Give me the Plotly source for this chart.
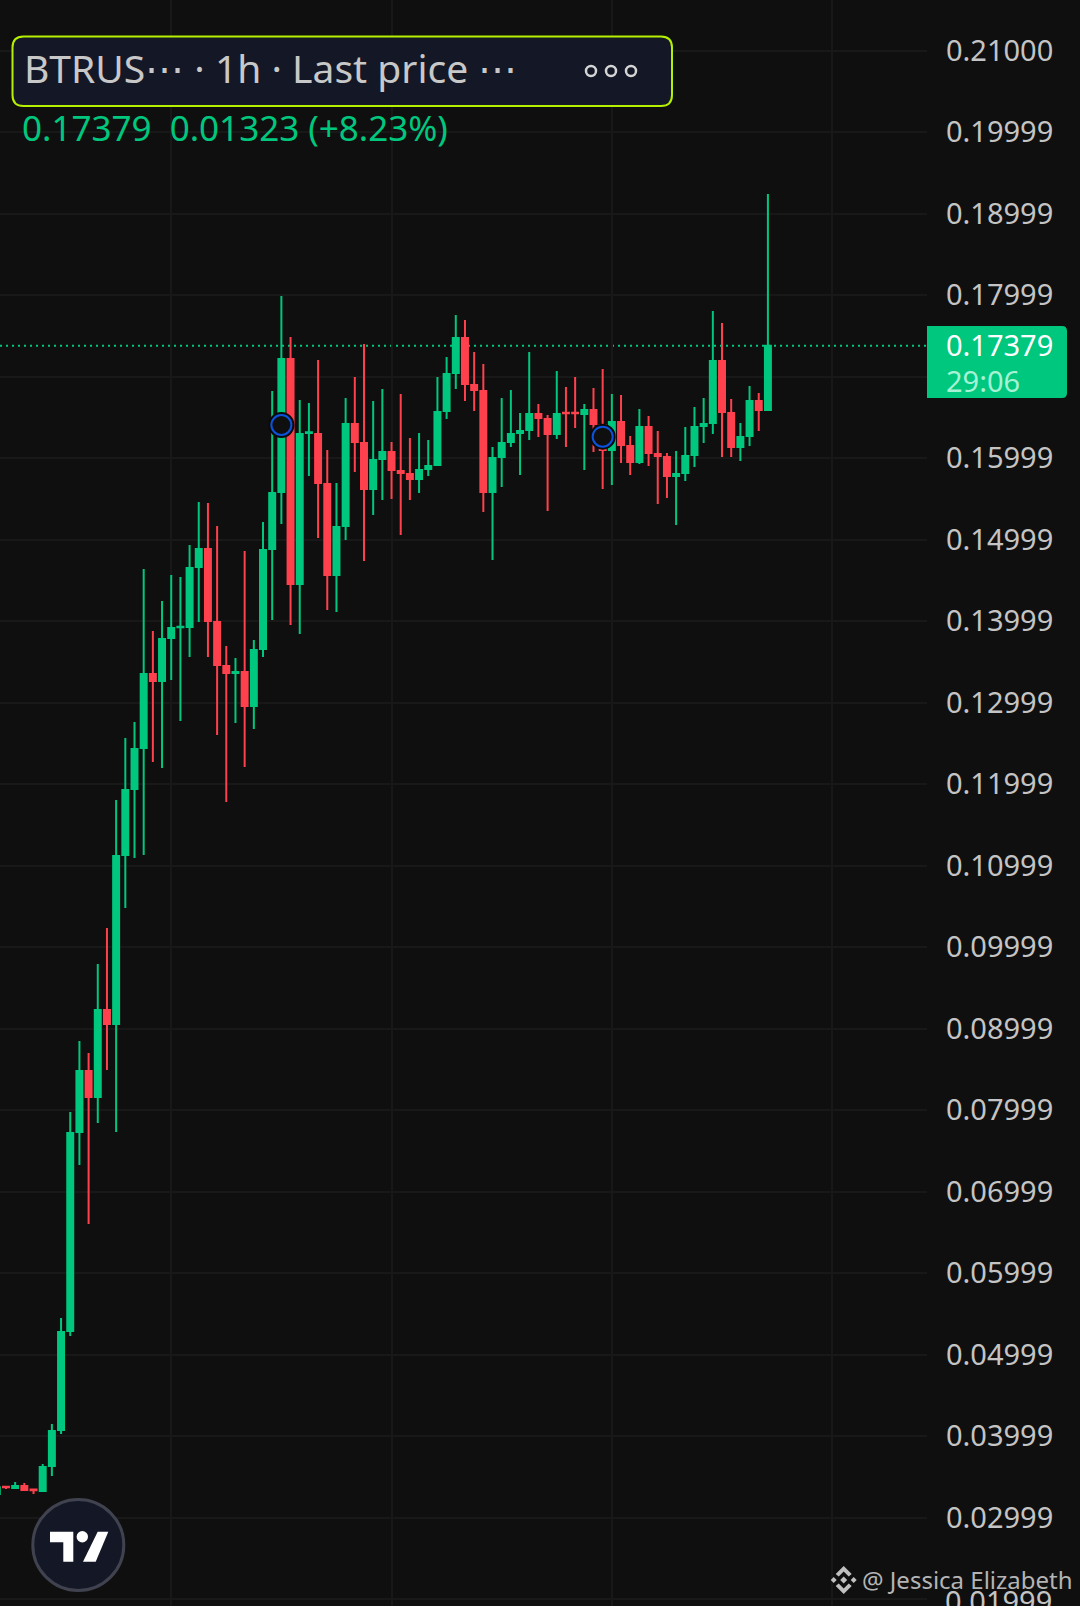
import plotly.graph_objects as go

W = 1080
H = 1606

############ candles ############
opens = [0.03290, 0.03379, 0.03363, 0.03388, 0.03343, 0.03326, 0.03633, 0.04075, 0.05290, 0.07731,
         0.08480, 0.08161, 0.09228, 0.09057, 0.11130, 0.11940, 0.12443, 0.13351, 0.13265, 0.13793,
         0.13924, 0.13928, 0.14663, 0.14884, 0.13989, 0.13449, 0.13363, 0.13376, 0.12958, 0.13658,
         0.14884, 0.15584, 0.17216, 0.14455, 0.16308, 0.16295, 0.15682, 0.14565, 0.15167, 0.16418,
         0.16185, 0.15621, 0.15989, 0.16075, 0.15842, 0.15805, 0.15744, 0.15866, 0.15915, 0.16578,
         0.17044, 0.17474, 0.16897, 0.16823, 0.15584, 0.16013, 0.16198, 0.16308, 0.16345, 0.16541,
         0.16480, 0.16296, 0.16557, 0.16557, 0.16541, 0.16590, 0.16406, 0.16099, 0.16443, 0.16148,
         0.15952, 0.16382, 0.16050, 0.16013, 0.15780, 0.15817, 0.16038, 0.16394, 0.16431, 0.17191,
         0.16553, 0.16136, 0.16271, 0.16701, 0.16590]
closes = [0.03371, 0.03371, 0.03388, 0.03339, 0.03335, 0.03621, 0.04063, 0.05277, 0.07719, 0.08480,
          0.08161, 0.09228, 0.09057, 0.11118, 0.11928, 0.12431, 0.13351, 0.13265, 0.13780, 0.13915,
          0.13932, 0.14651, 0.14884, 0.14001, 0.13461, 0.13363, 0.13376, 0.12958, 0.13646, 0.14872,
          0.15572, 0.17216, 0.14455, 0.16295, 0.16316, 0.15694, 0.14565, 0.15154, 0.16418, 0.16197,
          0.15621, 0.15976, 0.16075, 0.15854, 0.15817, 0.15744, 0.15854, 0.15903, 0.16566, 0.17032,
          0.17474, 0.16909, 0.16836, 0.15584, 0.16001, 0.16185, 0.16296, 0.16333, 0.16541, 0.16492,
          0.16296, 0.16541, 0.16549, 0.16549, 0.16590, 0.16418, 0.16099, 0.16443, 0.16161, 0.15952,
          0.16382, 0.16063, 0.16026, 0.15780, 0.15805, 0.16026, 0.16382, 0.16418, 0.17191, 0.16566,
          0.16136, 0.16259, 0.16701, 0.16590, 0.17379]
highs = [0.03371, 0.03379, 0.03437, 0.03425, 0.03343, 0.03658, 0.04148, 0.05449, 0.07977, 0.08848,
         0.08701, 0.09793, 0.10234, 0.11805, 0.12566, 0.12762, 0.14639, 0.13879, 0.14247, 0.14565,
         0.14541, 0.14934, 0.15461, 0.15449, 0.15167, 0.13695, 0.13547, 0.14860, 0.13768, 0.15216,
         0.16823, 0.17989, 0.17486, 0.16713, 0.16676, 0.17203, 0.16099, 0.15694, 0.16737, 0.16995,
         0.17400, 0.16700, 0.16848, 0.16198, 0.16787, 0.16247, 0.16308, 0.16222, 0.16995, 0.17241,
         0.17756, 0.17695, 0.17302, 0.17155, 0.16136, 0.16737, 0.16836, 0.16553, 0.17302, 0.16664,
         0.16529, 0.17069, 0.16872, 0.16995, 0.16664, 0.16860, 0.17093, 0.16787, 0.16774, 0.16271,
         0.16603, 0.16517, 0.16333, 0.16063, 0.16087, 0.16382, 0.16627, 0.16737, 0.17805, 0.17658,
         0.16725, 0.16431, 0.16885, 0.16799, 0.19240]
lows = [0.03290, 0.03351, 0.03363, 0.03339, 0.03290, 0.03326, 0.03510, 0.04026, 0.05228, 0.07327,
        0.06603, 0.07842, 0.08492, 0.07731, 0.10480, 0.11093, 0.11130, 0.12271, 0.12198, 0.13277,
        0.12774, 0.13560, 0.13989, 0.13560, 0.12603, 0.11780, 0.12750, 0.12210, 0.12676, 0.13560,
        0.14014, 0.15191, 0.13952, 0.13842, 0.15780, 0.15019, 0.14136, 0.14111, 0.14995, 0.15829,
        0.14737, 0.15302, 0.15486, 0.15498, 0.15056, 0.15486, 0.15572, 0.15780, 0.15915, 0.16480,
        0.16848, 0.16701, 0.16578, 0.15339, 0.14750, 0.15645, 0.16136, 0.15793, 0.16222, 0.16259,
        0.15351, 0.16234, 0.16136, 0.16369, 0.15854, 0.16075, 0.15621, 0.15670, 0.15940, 0.15793,
        0.15928, 0.15903, 0.15437, 0.15510, 0.15179, 0.15719, 0.15891, 0.16185, 0.16296, 0.16013,
        0.16013, 0.15964, 0.16148, 0.16333, 0.16590]
candle_idx = list(range(len(opens)))

# blue alert circles
alert_idx = [31, 66]
alert_price = [0.16406, 0.16263]

last_price = 0.17379
tick_vals = [0.21000, 0.19999, 0.18999, 0.17999, 0.16999, 0.15999, 0.14999, 0.13999, 0.12999, 0.11999,
             0.10999, 0.09999, 0.08999, 0.07999, 0.06999, 0.05999, 0.04999, 0.03999, 0.02999, 0.01999]
# 0.16999 sits behind the price tag, only its grid line shows
# 0.01999 runs off the page, plotly would drop it so it goes in as an annotation
tick_text = ['0.21000', '0.19999', '0.18999', '0.17999', '', '0.15999', '0.14999', '0.13999', '0.12999', '0.11999',
             '0.10999', '0.09999', '0.08999', '0.07999', '0.06999', '0.05999', '0.04999', '0.03999', '0.02999', '']
day_idx = [19, 43, 67, 91]

GREEN = '#00c77e'
RED = '#ff404d'
BG = '#0f0f0f'
GRID = '#181818'
LABEL = '#c4c4c4'


def px(x):
    return x / W


def py(y):
    return 1 - y / H


def poly(points):
    return 'M' + ' L'.join('%.5f,%.5f' % (px(x), py(y)) for x, y in points) + ' Z'


def round_rect(x0, y0, x1, y1, r_left, r_right):
    p = 'M%.5f,%.5f' % (px(x0 + r_left), py(y0))
    p += ' L%.5f,%.5f' % (px(x1 - r_right), py(y0))
    p += ' Q%.5f,%.5f %.5f,%.5f' % (px(x1), py(y0), px(x1), py(y0 + r_right))
    p += ' L%.5f,%.5f' % (px(x1), py(y1 - r_right))
    p += ' Q%.5f,%.5f %.5f,%.5f' % (px(x1), py(y1), px(x1 - r_right), py(y1))
    p += ' L%.5f,%.5f' % (px(x0 + r_left), py(y1))
    p += ' Q%.5f,%.5f %.5f,%.5f' % (px(x0), py(y1), px(x0), py(y1 - r_left))
    p += ' L%.5f,%.5f' % (px(x0), py(y0 + r_left))
    p += ' Q%.5f,%.5f %.5f,%.5f Z' % (px(x0), py(y0), px(x0 + r_left), py(y0))
    return p


def circle(cx, cy, r, fill, line='rgba(0,0,0,0)', lw=0):
    return dict(type='circle', xref='paper', yref='paper', layer='above',
                x0=px(cx - r), x1=px(cx + r), y0=py(cy + r), y1=py(cy - r),
                fillcolor=fill, line=dict(color=line, width=lw))


def path(d, fill, line='rgba(0,0,0,0)', lw=0):
    return dict(type='path', xref='paper', yref='paper', layer='above', path=d,
                fillcolor=fill, line=dict(color=line, width=lw))


def label(x, y, text, size, color):
    return dict(xref='paper', yref='paper', x=px(x), y=py(y), text=text, showarrow=False,
                xanchor='left', yanchor='middle', xshift=0, yshift=0,
                font=dict(family='Noto Sans', size=size, color=color))


fig = go.Figure()
fig.add_trace(go.Candlestick(x=candle_idx, open=opens, high=highs, low=lows, close=closes,
                             increasing=dict(line=dict(color=GREEN, width=2), fillcolor=GREEN),
                             decreasing=dict(line=dict(color=RED, width=2), fillcolor=RED),
                             whiskerwidth=0, hoverinfo='skip', showlegend=False))
fig.add_trace(go.Scatter(x=alert_idx, y=alert_price, mode='markers', hoverinfo='skip', showlegend=False,
                         marker=dict(size=26, color='#0a0a0a')))
fig.add_trace(go.Scatter(x=alert_idx, y=alert_price, mode='markers', hoverinfo='skip', showlegend=False,
                         marker=dict(size=20, color=BG, line=dict(color='#0b52dc', width=2))))

shapes = []
# last price line
shapes.append(dict(type='line', xref='x domain', yref='y', x0=0, x1=1, y0=last_price, y1=last_price,
                   layer='below', line=dict(color=GREEN, width=2, dash='2px,4px')))
# price tag
shapes.append(path(round_rect(927, 326, 1067, 398, 0, 5), GREEN))
# legend box
shapes.append(path(round_rect(12.5, 36.5, 672, 106, 11, 11), '#141826', '#b4f000', 2))
shapes.append(circle(591, 71, 5, 'rgba(0,0,0,0)', '#d4d4d4', 2.5))
shapes.append(circle(611, 71, 5, 'rgba(0,0,0,0)', '#d4d4d4', 2.5))
shapes.append(circle(631, 71, 5, 'rgba(0,0,0,0)', '#d4d4d4', 2.5))
# tv logo
shapes.append(circle(78.3, 1545, 45.5, '#141826', '#40434f', 3))
shapes.append(path(poly([(50, 1531.7), (73.3, 1531.7), (73.3, 1561.7), (63.3, 1561.7), (63.3, 1542.3), (50, 1542.3)]), 'white'))
shapes.append(circle(82.3, 1536.7, 5.7, 'white'))
shapes.append(path(poly([(97.7, 1531.7), (108.3, 1531.7), (95.7, 1561.7), (83, 1561.7)]), 'white'))
# binance mark
ic_x, ic_y = 843.7, 1580
shapes.append(path(poly([(ic_x, ic_y - 3.5), (ic_x + 3.5, ic_y), (ic_x, ic_y + 3.5), (ic_x - 3.5, ic_y)]), '#c0c0c0'))
shapes.append(path(poly([(ic_x - 13, ic_y), (ic_x - 10, ic_y - 3), (ic_x - 7, ic_y), (ic_x - 10, ic_y + 3)]), '#c0c0c0'))
shapes.append(path(poly([(ic_x + 13, ic_y), (ic_x + 10, ic_y - 3), (ic_x + 7, ic_y), (ic_x + 10, ic_y + 3)]), '#c0c0c0'))
shapes.append(path(poly([(ic_x, ic_y - 14), (ic_x + 8, ic_y - 6), (ic_x + 5, ic_y - 3.5), (ic_x, ic_y - 8.5),
                         (ic_x - 5, ic_y - 3.5), (ic_x - 8, ic_y - 6)]), '#c0c0c0'))
shapes.append(path(poly([(ic_x, ic_y + 14), (ic_x + 8, ic_y + 6), (ic_x + 5, ic_y + 3.5), (ic_x, ic_y + 8.5),
                         (ic_x - 5, ic_y + 3.5), (ic_x - 8, ic_y + 6)]), '#c0c0c0'))

annotations = [
    label(22, 68, 'BTRUS\u22ef \u00b7 1h \u00b7 Last price \u22ef', 39, '#c8c8c8'),
    label(20, 128, '0.17379  0.01323 (+8.23%)', 35, GREEN),
    label(944, 345, '0.17379', 29, '#ffffff'),
    label(944, 380, '29:06', 29, '#a6f2d4'),
    label(943, 1600, '0.01999', 29, LABEL),
    label(860, 1579, '@ Jessica Elizabeth', 24, '#b4b4b4'),
]

fig.update_layout(width=W, height=H, margin=dict(l=0, r=0, t=0, b=0), paper_bgcolor=BG, plot_bgcolor=BG,
                  boxgap=0.35, boxgroupgap=0, showlegend=False, shapes=shapes, annotations=annotations, hovermode=False,
                  xaxis=dict(domain=[0, 927 / W], range=[0.349, 101.33], tickvals=day_idx, showticklabels=False,
                             ticks='', showgrid=True, gridcolor=GRID, gridwidth=2, zeroline=False,
                             rangeslider=dict(visible=False), showline=False),
                  yaxis=dict(side='right', range=[0.01915, 0.21621], tickvals=tick_vals, ticktext=tick_text,
                             ticks='', ticklabelstandoff=18, showgrid=True,
                             gridcolor=GRID, gridwidth=2, zeroline=False, showline=False,
                             tickfont=dict(family='Noto Sans', size=29, color=LABEL)))

fig.write_html('out.html', config=dict(displayModeBar=False),
               post_script="document.body.style.margin='0';document.body.style.overflow='hidden';")
